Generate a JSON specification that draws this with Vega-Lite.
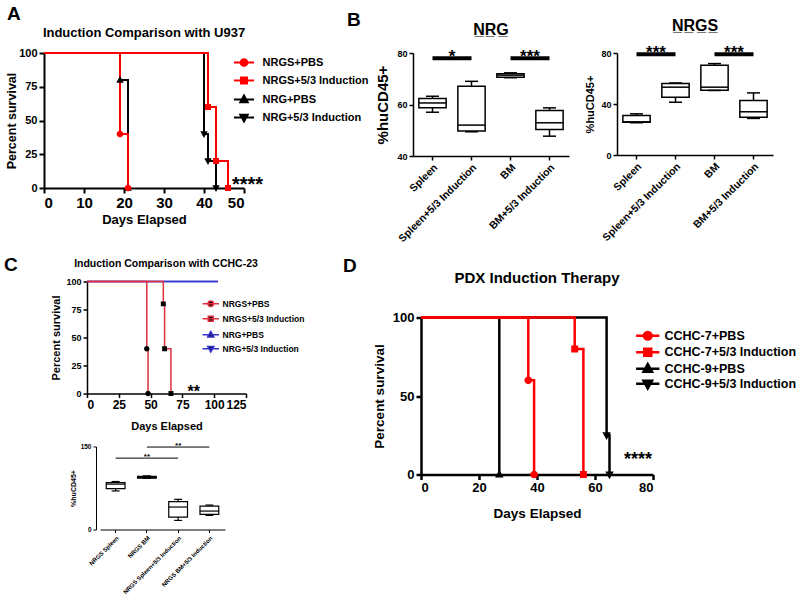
{
 "$schema": "https://vega.github.io/schema/vega-lite/v6.json",
 "background": "white",
 "padding": {"left": 4, "top": 5, "right": 0, "bottom": 0},
 "config": {
  "font": "Liberation Sans",
  "view": {"stroke": null},
  "axis": {"grid": false, "labelFontWeight": "bold", "titleFontWeight": "bold", "labelColor": "black", "titleColor": "black", "domainColor": "black", "tickColor": "black", "labelFont": "Liberation Sans", "titleFont": "Liberation Sans"},
  "legend": {"labelFont": "Liberation Sans", "labelFontWeight": "bold", "labelColor": "black"},
  "title": {"font": "Liberation Sans", "fontWeight": "bold", "color": "black", "baseline": "alphabetic"},
  "text": {"font": "Liberation Sans", "fontWeight": "bold", "color": "black"}
 },
 "datasets": {
  "survA": [
   {"g": "NRG+PBS", "d": 0, "p": 100, "m": 0}, {"g": "NRG+PBS", "d": 19, "p": 80, "m": 1}, {"g": "NRG+PBS", "d": 21, "p": 0, "m": 1},
   {"g": "NRG+5/3 Induction", "d": 0, "p": 100, "m": 0}, {"g": "NRG+5/3 Induction", "d": 40, "p": 40, "m": 1}, {"g": "NRG+5/3 Induction", "d": 41, "p": 20, "m": 1}, {"g": "NRG+5/3 Induction", "d": 43, "p": 0, "m": 1},
   {"g": "NRGS+PBS", "d": 0, "p": 100, "m": 0}, {"g": "NRGS+PBS", "d": 19, "p": 40, "m": 1}, {"g": "NRGS+PBS", "d": 21, "p": 0, "m": 1},
   {"g": "NRGS+5/3 Induction", "d": 0, "p": 100, "m": 0}, {"g": "NRGS+5/3 Induction", "d": 41, "p": 60, "m": 1}, {"g": "NRGS+5/3 Induction", "d": 43, "p": 20, "m": 1}, {"g": "NRGS+5/3 Induction", "d": 46, "p": 0, "m": 1}
  ],
  "starA": [{"d": 47, "p": -2, "t": "****"}],
  "survC": [
   {"g": "NRG+PBS", "d": 0, "p": 100, "m": 0}, {"g": "NRG+PBS", "d": 103, "p": 100, "m": 0},
   {"g": "NRG+5/3 Induction", "d": 0, "p": 100, "m": 0}, {"g": "NRG+5/3 Induction", "d": 103, "p": 100, "m": 0},
   {"g": "NRGS+PBS", "d": 0, "p": 100, "m": 0}, {"g": "NRGS+PBS", "d": 47, "p": 40, "m": 1}, {"g": "NRGS+PBS", "d": 48, "p": 0, "m": 1},
   {"g": "NRGS+5/3 Induction", "d": 0, "p": 100, "m": 0}, {"g": "NRGS+5/3 Induction", "d": 60, "p": 80, "m": 1}, {"g": "NRGS+5/3 Induction", "d": 61, "p": 40, "m": 1}, {"g": "NRGS+5/3 Induction", "d": 66, "p": 0, "m": 1}
  ],
  "starC": [{"d": 79, "p": -3, "t": "**"}],
  "survD": [
   {"g": "CCHC-9+PBS", "d": 0, "p": 100, "m": 0}, {"g": "CCHC-9+PBS", "d": 27, "p": 0, "m": 1},
   {"g": "CCHC-9+5/3 Induction", "d": 0, "p": 100, "m": 0}, {"g": "CCHC-9+5/3 Induction", "d": 64, "p": 25, "m": 1}, {"g": "CCHC-9+5/3 Induction", "d": 65, "p": 0, "m": 1},
   {"g": "CCHC-7+PBS", "d": 0, "p": 100, "m": 0}, {"g": "CCHC-7+PBS", "d": 37, "p": 60, "m": 1}, {"g": "CCHC-7+PBS", "d": 39, "p": 0, "m": 1},
   {"g": "CCHC-7+5/3 Induction", "d": 0, "p": 100, "m": 0}, {"g": "CCHC-7+5/3 Induction", "d": 53, "p": 80, "m": 1}, {"g": "CCHC-7+5/3 Induction", "d": 56, "p": 0, "m": 1}
  ],
  "starD": [{"d": 70, "p": 6, "t": "****"}],
  "boxNRG": [
   {"cat": "Spleen", "min": 57, "q1": 58.7, "med": 60.6, "q3": 62.3, "max": 63.2},
   {"cat": "Spleen+5/3 Induction", "min": 49.4, "q1": 49.7, "med": 52, "q3": 67.1, "max": 69},
   {"cat": "BM", "min": 70.4, "q1": 70.6, "med": 71.4, "q3": 71.9, "max": 72.3},
   {"cat": "BM+5/3 Induction", "min": 47.7, "q1": 50.3, "med": 52.9, "q3": 57.7, "max": 58.7}
  ],
  "sigNRG": [
   {"cat": "Spleen", "cat2": "Spleen+5/3 Induction", "y": 78, "t": "*"},
   {"cat": "BM", "cat2": "BM+5/3 Induction", "y": 78, "t": "***"}
  ],
  "boxNRGS": [
   {"cat": "Spleen", "min": 25.3, "q1": 25.6, "med": 26, "q3": 31, "max": 32.3},
   {"cat": "Spleen+5/3 Induction", "min": 41.4, "q1": 45.3, "med": 53.2, "q3": 56, "max": 56.5},
   {"cat": "BM", "min": 50.6, "q1": 50.8, "med": 53.2, "q3": 70.4, "max": 71.7},
   {"cat": "BM+5/3 Induction", "min": 28.7, "q1": 29.7, "med": 33.9, "q3": 42.7, "max": 48.7}
  ],
  "sigNRGS": [
   {"cat": "Spleen", "cat2": "Spleen+5/3 Induction", "y": 79, "t": "***"},
   {"cat": "BM", "cat2": "BM+5/3 Induction", "y": 79, "t": "***"}
  ],
  "boxC": [
   {"cat": "NRGS Spleen", "min": 69.7, "q1": 73.9, "med": 82, "q3": 84.8, "max": 86.7},
   {"cat": "NRGS BM", "min": 92.5, "q1": 93, "med": 94, "q3": 96, "max": 97},
   {"cat": "NRGS Spleen+5/3 Induction", "min": 16.4, "q1": 22.4, "med": 40.6, "q3": 50.3, "max": 54.5},
   {"cat": "NRGS BM+5/3 Induction", "min": 25.5, "q1": 27.3, "med": 33.3, "q3": 42.4, "max": 44.2}
  ],
  "sigC": [
   {"cat": "NRGS Spleen", "cat2": "NRGS Spleen+5/3 Induction", "mid": "NRGS BM", "y": 129, "t": "**"},
   {"cat": "NRGS BM", "cat2": "NRGS BM+5/3 Induction", "mid": "NRGS Spleen+5/3 Induction", "y": 149, "t": "**"}
  ]
 },
 "spacing": 11.5,
 "resolve": {"scale": {"color": "independent", "shape": "independent"}},
 "vconcat": [
  {
   "spacing": -23,
   "resolve": {"scale": {"color": "independent", "shape": "independent"}},
   "hconcat": [
    {
     "bounds": "flush",
     "title": {"text": "A", "fontSize": 19, "anchor": "start", "frame": "group", "dx": -37, "offset": 3},
     "hconcat": [
      {
       "width": 200, "height": 135,
       "title": {"text": "Induction Comparison with U937", "fontSize": 13, "anchor": "middle", "frame": "group", "offset": 7},
       "encoding": {
        "x": {"field": "d", "type": "quantitative", "scale": {"domain": [0, 50], "nice": false}, "axis": {"values": [0, 10, 20, 30, 40, 50], "title": "Days Elapsed", "labelFontSize": 15, "titleFontSize": 13, "domainWidth": 2, "tickWidth": 2, "tickSize": 5, "labelPadding": 2, "titlePadding": 3}},
        "y": {"field": "p", "type": "quantitative", "scale": {"domain": [0, 100], "nice": false}, "axis": {"values": [0, 25, 50, 75, 100], "title": "Percent survival", "labelFontSize": 11, "titleFontSize": 12.5, "domainWidth": 2, "tickWidth": 2, "tickSize": 5, "labelPadding": 2, "titlePadding": 0}}
       },
       "layer": [
        {
         "data": {"name": "survA"},
         "mark": {"type": "line", "interpolate": "step-after", "strokeWidth": 2},
         "encoding": {"color": {"field": "g", "type": "nominal", "scale": {"domain": ["NRGS+PBS", "NRGS+5/3 Induction", "NRG+PBS", "NRG+5/3 Induction"], "range": ["#ff0000", "#ff0000", "#000000", "#000000"]},
          "legend": {"orient": "none", "legendX": 194.5, "legendY": 4, "title": null, "labelFontSize": 11, "symbolSize": 45, "labelOffset": 13, "rowPadding": 3, "padding": 0, "symbolStrokeWidth": 2, "encode": {"symbols": {"update": {"stroke": {"signal": "indexof(datum.value, 'NRGS') === 0 ? '#ff0000' : '#000000'"}, "fill": {"signal": "indexof(datum.value, 'NRGS') === 0 ? '#ff0000' : '#000000'"}, "strokeOpacity": {"value": 1}, "fillOpacity": {"value": 1}, "opacity": {"value": 1}}}}}}}
        },
        {
         "data": {"name": "survA"},
         "transform": [{"filter": "datum.m == 1"}],
         "mark": {"type": "point", "filled": true, "size": 45, "opacity": 1, "strokeOpacity": 0},
         "encoding": {
          "color": {"field": "g", "type": "nominal", "scale": {"domain": ["NRGS+PBS", "NRGS+5/3 Induction", "NRG+PBS", "NRG+5/3 Induction"], "range": ["#ff0000", "#ff0000", "#000000", "#000000"]},
           "legend": {"orient": "none", "legendX": 194.5, "legendY": 4, "title": null, "labelFontSize": 11, "symbolSize": 45, "labelOffset": 13, "rowPadding": 3, "padding": 0, "symbolStrokeWidth": 2, "encode": {"symbols": {"update": {"stroke": {"signal": "indexof(datum.value, 'NRGS') === 0 ? '#ff0000' : '#000000'"}, "fill": {"signal": "indexof(datum.value, 'NRGS') === 0 ? '#ff0000' : '#000000'"}, "strokeOpacity": {"value": 1}, "fillOpacity": {"value": 1}, "opacity": {"value": 1}}}}}},
          "shape": {"field": "g", "type": "nominal", "scale": {"domain": ["NRGS+PBS", "NRGS+5/3 Induction", "NRG+PBS", "NRG+5/3 Induction"], "range": ["M-3,0H3M1,0A1,1,0,1,1,-1,0A1,1,0,1,1,1,0Z", "M-3,0H3M-0.9,-0.9H0.9V0.9H-0.9Z", "M-3,0H3M0,-1.2L1.1,0.8H-1.1Z", "M-3,0H3M0,1.2L1.1,-0.8H-1.1Z"]},
           "legend": {"orient": "none", "legendX": 194.5, "legendY": 4, "title": null, "labelFontSize": 11, "symbolSize": 45, "labelOffset": 13, "rowPadding": 3, "padding": 0, "symbolStrokeWidth": 2, "encode": {"symbols": {"update": {"stroke": {"signal": "indexof(datum.value, 'NRGS') === 0 ? '#ff0000' : '#000000'"}, "fill": {"signal": "indexof(datum.value, 'NRGS') === 0 ? '#ff0000' : '#000000'"}, "strokeOpacity": {"value": 1}, "fillOpacity": {"value": 1}, "opacity": {"value": 1}}}}}}
         }
        },
        {
         "data": {"name": "starA"},
         "mark": {"type": "text", "align": "left", "baseline": "alphabetic", "fontSize": 20},
         "encoding": {"text": {"field": "t"}}
        }
       ]
      }
     ]
    },
    {
     "spacing": 48,
     "bounds": "flush",
     "title": {"text": "B", "fontSize": 19, "anchor": "start", "frame": "group", "dx": -66, "offset": -11.5},
     "hconcat": [
      {
       "width": 156, "height": 103,
       "title": {"text": "N\u0332R\u0332G\u0332", "fontSize": 16, "anchor": "middle", "frame": "group", "offset": 10},
       "encoding": {"x": {"field": "cat", "type": "nominal", "sort": null, "scale": {"domain": ["Spleen", "Spleen+5/3 Induction", "BM", "BM+5/3 Induction"], "paddingInner": 0, "paddingOuter": 0}, "axis": {"title": null, "labelAngle": -45, "labelFontSize": 10.5, "domainWidth": 1.5, "tickWidth": 1.5, "tickSize": 4, "labelPadding": 2}}},
       "layer": [
        {"data": {"name": "boxNRG"}, "mark": {"type": "rule", "strokeWidth": 1.5, "color": "black"},
         "encoding": {"y": {"field": "min", "type": "quantitative", "scale": {"domain": [40, 80], "nice": false}, "axis": {"values": [40, 50, 60, 70, 80], "title": "%huCD45+", "labelFontSize": 9, "titleFontSize": 15, "domainWidth": 1.5, "tickWidth": 1.5, "tickSize": 4, "labelPadding": 2, "titlePadding": 6}}, "y2": {"field": "max"}}},
        {"data": {"name": "boxNRG"}, "mark": {"type": "bar", "fill": "white", "stroke": "black", "strokeWidth": 1.5, "width": {"band": 0.7}},
         "encoding": {"y": {"field": "q1", "type": "quantitative"}, "y2": {"field": "q3"}}},
        {"data": {"name": "boxNRG"}, "mark": {"type": "tick", "color": "black", "thickness": 1.5, "size": 27, "opacity": 1},
         "encoding": {"y": {"field": "med", "type": "quantitative"}}},
        {"data": {"name": "boxNRG"}, "mark": {"type": "tick", "color": "black", "thickness": 1.5, "size": 13, "opacity": 1},
         "encoding": {"y": {"field": "min", "type": "quantitative"}}},
        {"data": {"name": "boxNRG"}, "mark": {"type": "tick", "color": "black", "thickness": 1.5, "size": 13, "opacity": 1},
         "encoding": {"y": {"field": "max", "type": "quantitative"}}},
        {"data": {"name": "sigNRG"}, "mark": {"type": "rule", "strokeWidth": 4, "color": "black"},
         "encoding": {"x2": {"field": "cat2"}, "y": {"field": "y", "type": "quantitative"}}},
        {"data": {"name": "sigNRG"}, "mark": {"type": "text", "fontSize": 17, "baseline": "alphabetic", "dy": 4},
         "encoding": {"x": {"field": "cat", "type": "nominal", "bandPosition": 1}, "y": {"field": "y", "type": "quantitative"}, "text": {"field": "t"}}}
       ]
      },
      {
       "width": 156, "height": 102,
       "title": {"text": "N\u0332R\u0332G\u0332S\u0332", "fontSize": 16, "anchor": "middle", "frame": "group", "offset": 10},
       "encoding": {"x": {"field": "cat", "type": "nominal", "sort": null, "scale": {"domain": ["Spleen", "Spleen+5/3 Induction", "BM", "BM+5/3 Induction"], "paddingInner": 0, "paddingOuter": 0}, "axis": {"title": null, "labelAngle": -45, "labelFontSize": 10.5, "domainWidth": 1.5, "tickWidth": 1.5, "tickSize": 4, "labelPadding": 2}}},
       "layer": [
        {"data": {"name": "boxNRGS"}, "mark": {"type": "rule", "strokeWidth": 1.5, "color": "black"},
         "encoding": {"y": {"field": "min", "type": "quantitative", "scale": {"domain": [0, 80], "nice": false}, "axis": {"values": [0, 20, 40, 60, 80], "title": "%huCD45+", "labelFontSize": 9, "titleFontSize": 11, "domainWidth": 1.5, "tickWidth": 1.5, "tickSize": 4, "labelPadding": 2, "titlePadding": 5}}, "y2": {"field": "max"}}},
        {"data": {"name": "boxNRGS"}, "mark": {"type": "bar", "fill": "white", "stroke": "black", "strokeWidth": 1.5, "width": {"band": 0.7}},
         "encoding": {"y": {"field": "q1", "type": "quantitative"}, "y2": {"field": "q3"}}},
        {"data": {"name": "boxNRGS"}, "mark": {"type": "tick", "color": "black", "thickness": 1.5, "size": 27, "opacity": 1},
         "encoding": {"y": {"field": "med", "type": "quantitative"}}},
        {"data": {"name": "boxNRGS"}, "mark": {"type": "tick", "color": "black", "thickness": 1.5, "size": 13, "opacity": 1},
         "encoding": {"y": {"field": "min", "type": "quantitative"}}},
        {"data": {"name": "boxNRGS"}, "mark": {"type": "tick", "color": "black", "thickness": 1.5, "size": 13, "opacity": 1},
         "encoding": {"y": {"field": "max", "type": "quantitative"}}},
        {"data": {"name": "sigNRGS"}, "mark": {"type": "rule", "strokeWidth": 4, "color": "black"},
         "encoding": {"x2": {"field": "cat2"}, "y": {"field": "y", "type": "quantitative"}}},
        {"data": {"name": "sigNRGS"}, "mark": {"type": "text", "fontSize": 17, "baseline": "alphabetic", "dy": 4},
         "encoding": {"x": {"field": "cat", "type": "nominal", "bandPosition": 1}, "y": {"field": "y", "type": "quantitative"}, "text": {"field": "t"}}}
       ]
      }
     ]
    }
   ]
  },
  {
   "spacing": 38,
   "resolve": {"scale": {"color": "independent", "shape": "independent"}},
   "hconcat": [
    {
     "spacing": 53,
     "bounds": "flush",
     "title": {"text": "C", "fontSize": 19, "anchor": "start", "frame": "group", "dx": -40, "offset": -16},
     "vconcat": [
      {
       "width": 202, "height": 112,
       "title": {"text": "Induction Comparison with CCHC-23", "fontSize": 10.5, "anchor": "middle", "frame": "group", "offset": 8, "dx": 21},
       "encoding": {
        "x": {"field": "d", "type": "quantitative", "scale": {"domain": [0, 125], "range": [43, 202], "nice": false}, "axis": {"values": [0, 25, 50, 75, 100, 125], "title": "Days Elapsed", "labelFontSize": 12, "titleFontSize": 11, "domainWidth": 1.5, "tickWidth": 1.5, "tickSize": 4, "labelPadding": 2, "titlePadding": 10}},
        "y": {"field": "p", "type": "quantitative", "scale": {"domain": [0, 100], "nice": false}, "axis": {"values": [0, 25, 50, 75, 100], "title": "Percent survival", "labelFontSize": 9, "titleFontSize": 11, "domainWidth": 1.5, "tickWidth": 1.5, "tickSize": 4, "labelPadding": 2, "titlePadding": 4, "offset": -43}}
       },
       "layer": [
        {
         "data": {"name": "survC"},
         "mark": {"type": "line", "interpolate": "step-after", "strokeWidth": 1.5},
         "encoding": {"color": {"field": "g", "type": "nominal", "scale": {"domain": ["NRGS+PBS", "NRGS+5/3 Induction", "NRG+PBS", "NRG+5/3 Induction"], "range": ["#e03040", "#e03040", "#3333cc", "#3333cc"]},
          "legend": {"orient": "none", "legendX": 162.5, "legendY": 18, "title": null, "labelFontSize": 8.5, "symbolSize": 30, "labelOffset": 7.5, "rowPadding": 3, "padding": 0, "symbolStrokeWidth": 1.5, "encode": {"symbols": {"update": {"stroke": {"signal": "indexof(datum.value, 'NRGS') === 0 ? '#e03040' : '#3333cc'"}, "fill": {"value": "black"}, "strokeOpacity": {"value": 1}, "fillOpacity": {"value": 1}, "opacity": {"value": 1}}}}}}}
        },
        {
         "data": {"name": "survC"},
         "transform": [{"filter": "datum.m == 1"}],
         "mark": {"type": "point", "filled": true, "size": 30, "opacity": 1, "color": "black", "strokeOpacity": 0},
         "encoding": {
          "shape": {"field": "g", "type": "nominal", "scale": {"domain": ["NRGS+PBS", "NRGS+5/3 Induction", "NRG+PBS", "NRG+5/3 Induction"], "range": ["M-3,0H3M1,0A1,1,0,1,1,-1,0A1,1,0,1,1,1,0Z", "M-3,0H3M-0.9,-0.9H0.9V0.9H-0.9Z", "M-3,0H3M0,-1.2L1.1,0.8H-1.1Z", "M-3,0H3M0,1.2L1.1,-0.8H-1.1Z"]},
           "legend": {"orient": "none", "legendX": 162.5, "legendY": 18, "title": null, "labelFontSize": 8.5, "symbolSize": 30, "labelOffset": 7.5, "rowPadding": 3, "padding": 0, "symbolStrokeWidth": 1.5, "encode": {"symbols": {"update": {"stroke": {"signal": "indexof(datum.value, 'NRGS') === 0 ? '#e03040' : '#3333cc'"}, "fill": {"value": "black"}, "strokeOpacity": {"value": 1}, "fillOpacity": {"value": 1}, "opacity": {"value": 1}}}}}}
         }
        },
        {
         "data": {"name": "starC"},
         "mark": {"type": "text", "align": "left", "baseline": "alphabetic", "fontSize": 16},
         "encoding": {"text": {"field": "t"}}
        }
       ]
      },
      {
       "width": 181, "height": 83,
       "encoding": {"x": {"field": "cat", "type": "nominal", "sort": null, "scale": {"domain": ["NRGS Spleen", "NRGS BM", "NRGS Spleen+5/3 Induction", "NRGS BM+5/3 Induction"], "range": [56, 181], "paddingInner": 0, "paddingOuter": 0}, "axis": {"title": null, "labelAngle": -45, "labelFontSize": 6, "domainWidth": 1, "tickWidth": 1, "tickSize": 3, "labelPadding": 2}}},
       "layer": [
        {"data": {"name": "boxC"}, "mark": {"type": "rule", "strokeWidth": 1.2, "color": "black"},
         "encoding": {"y": {"field": "min", "type": "quantitative", "scale": {"domain": [0, 150], "nice": false}, "axis": {"values": [0, 50, 100, 150], "title": "%huCD45+", "labelFontSize": 6.5, "titleFontSize": 7, "domainWidth": 1, "tickWidth": 1, "tickSize": 3, "labelPadding": 2, "titlePadding": 4, "offset": -52}}, "y2": {"field": "max"}}},
        {"data": {"name": "boxC"}, "mark": {"type": "bar", "fill": "white", "stroke": "black", "strokeWidth": 1.2, "width": {"band": 0.6}},
         "encoding": {"y": {"field": "q1", "type": "quantitative"}, "y2": {"field": "q3"}}},
        {"data": {"name": "boxC"}, "mark": {"type": "tick", "color": "black", "thickness": 1.2, "size": 19, "opacity": 1},
         "encoding": {"y": {"field": "med", "type": "quantitative"}}},
        {"data": {"name": "boxC"}, "mark": {"type": "tick", "color": "black", "thickness": 1.2, "size": 8, "opacity": 1},
         "encoding": {"y": {"field": "min", "type": "quantitative"}}},
        {"data": {"name": "boxC"}, "mark": {"type": "tick", "color": "black", "thickness": 1.2, "size": 8, "opacity": 1},
         "encoding": {"y": {"field": "max", "type": "quantitative"}}},
        {"data": {"name": "sigC"}, "mark": {"type": "rule", "strokeWidth": 1, "color": "black"},
         "encoding": {"x2": {"field": "cat2"}, "y": {"field": "y", "type": "quantitative"}}},
        {"data": {"name": "sigC"}, "mark": {"type": "text", "fontSize": 8, "baseline": "alphabetic", "dy": 1},
         "encoding": {"x": {"field": "mid", "type": "nominal"}, "y": {"field": "y", "type": "quantitative"}, "text": {"field": "t"}}}
       ]
      }
     ]
    },
    {
     "bounds": "flush",
     "title": {"text": "D", "fontSize": 19, "anchor": "start", "frame": "group", "dx": -78, "offset": -5.5},
     "hconcat": [
      {
       "width": 232, "height": 193,
       "title": {"text": "PDX Induction Therapy", "fontSize": 15, "anchor": "middle", "frame": "group", "offset": -4},
       "encoding": {
        "x": {"field": "d", "type": "quantitative", "scale": {"domain": [0, 80], "nice": false}, "axis": {"values": [0, 20, 40, 60, 80], "title": "Days Elapsed", "labelFontSize": 13, "titleFontSize": 13.5, "domainWidth": 2.5, "tickWidth": 2.5, "tickSize": 5, "labelPadding": 2, "titlePadding": 12}},
        "y": {"field": "p", "type": "quantitative", "scale": {"domain": [0, 100], "range": [193, 36], "nice": false}, "axis": {"values": [0, 50, 100], "title": "Percent survival", "labelFontSize": 13, "titleFontSize": 13.5, "domainWidth": 2.5, "tickWidth": 2.5, "tickSize": 5, "labelPadding": 2, "titlePadding": 6}}
       },
       "layer": [
        {
         "data": {"name": "survD"},
         "mark": {"type": "line", "interpolate": "step-after", "strokeWidth": 2.5},
         "encoding": {"color": {"field": "g", "type": "nominal", "scale": {"domain": ["CCHC-7+PBS", "CCHC-7+5/3 Induction", "CCHC-9+PBS", "CCHC-9+5/3 Induction"], "range": ["#ff0000", "#ff0000", "#000000", "#000000"]},
          "legend": {"orient": "none", "legendX": 220.5, "legendY": 48, "title": null, "labelFontSize": 12.5, "symbolSize": 60, "labelOffset": 10.5, "rowPadding": -2.5, "padding": 0, "symbolStrokeWidth": 2.5, "encode": {"symbols": {"update": {"stroke": {"signal": "indexof(datum.value, 'CCHC-7') === 0 ? '#ff0000' : '#000000'"}, "fill": {"signal": "indexof(datum.value, 'CCHC-7') === 0 ? '#ff0000' : '#000000'"}, "strokeOpacity": {"value": 1}, "fillOpacity": {"value": 1}, "opacity": {"value": 1}}}}}}}
        },
        {
         "data": {"name": "survD"},
         "transform": [{"filter": "datum.m == 1"}],
         "mark": {"type": "point", "filled": true, "size": 60, "opacity": 1, "strokeOpacity": 0},
         "encoding": {
          "color": {"field": "g", "type": "nominal", "scale": {"domain": ["CCHC-7+PBS", "CCHC-7+5/3 Induction", "CCHC-9+PBS", "CCHC-9+5/3 Induction"], "range": ["#ff0000", "#ff0000", "#000000", "#000000"]},
           "legend": {"orient": "none", "legendX": 220.5, "legendY": 48, "title": null, "labelFontSize": 12.5, "symbolSize": 60, "labelOffset": 10.5, "rowPadding": -2.5, "padding": 0, "symbolStrokeWidth": 2.5, "encode": {"symbols": {"update": {"stroke": {"signal": "indexof(datum.value, 'CCHC-7') === 0 ? '#ff0000' : '#000000'"}, "fill": {"signal": "indexof(datum.value, 'CCHC-7') === 0 ? '#ff0000' : '#000000'"}, "strokeOpacity": {"value": 1}, "fillOpacity": {"value": 1}, "opacity": {"value": 1}}}}}},
          "shape": {"field": "g", "type": "nominal", "scale": {"domain": ["CCHC-7+PBS", "CCHC-7+5/3 Induction", "CCHC-9+PBS", "CCHC-9+5/3 Induction"], "range": ["M-3,0H3M1,0A1,1,0,1,1,-1,0A1,1,0,1,1,1,0Z", "M-3,0H3M-0.9,-0.9H0.9V0.9H-0.9Z", "M-3,0H3M0,-1.2L1.1,0.8H-1.1Z", "M-3,0H3M0,1.2L1.1,-0.8H-1.1Z"]},
           "legend": {"orient": "none", "legendX": 220.5, "legendY": 48, "title": null, "labelFontSize": 12.5, "symbolSize": 60, "labelOffset": 10.5, "rowPadding": -2.5, "padding": 0, "symbolStrokeWidth": 2.5, "encode": {"symbols": {"update": {"stroke": {"signal": "indexof(datum.value, 'CCHC-7') === 0 ? '#ff0000' : '#000000'"}, "fill": {"signal": "indexof(datum.value, 'CCHC-7') === 0 ? '#ff0000' : '#000000'"}, "strokeOpacity": {"value": 1}, "fillOpacity": {"value": 1}, "opacity": {"value": 1}}}}}}
         }
        },
        {
         "data": {"name": "starD"},
         "mark": {"type": "text", "align": "left", "baseline": "alphabetic", "fontSize": 18},
         "encoding": {"text": {"field": "t"}}
        }
       ]
      }
     ]
    }
   ]
  }
 ]
}
